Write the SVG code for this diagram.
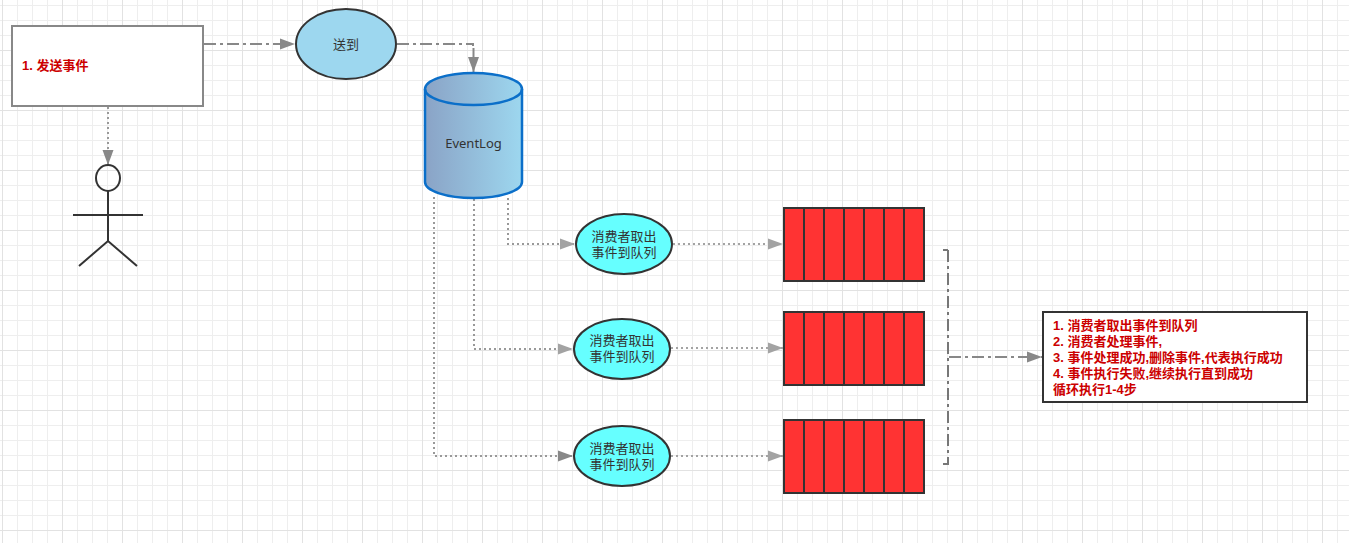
<svg xmlns="http://www.w3.org/2000/svg" width="1349" height="543" viewBox="0 0 1349 543">
<defs>
<pattern id="grid" x="2" y="50" width="60" height="60" patternUnits="userSpaceOnUse">
<path d="M15.5 0V60M30.5 0V60M45.5 0V60M0 15.5H60M0 30.5H60M0 45.5H60" fill="none" stroke="#eeeeee" stroke-width="1"/>
<path d="M0.5 0V60M0 0.5H60" fill="none" stroke="#e2e2e2" stroke-width="1"/>
</pattern>
<linearGradient id="cyl" x1="0" y1="0" x2="1" y2="0"><stop offset="0" stop-color="#8aa3c6"/><stop offset="1" stop-color="#9dd7ef"/></linearGradient>
<marker id="a1" markerUnits="userSpaceOnUse" markerWidth="16" markerHeight="14" refX="15" refY="7" orient="auto"><path d="M0 1.500L15 7L0 12.500Z" fill="#888"/></marker>
<marker id="a2" markerUnits="userSpaceOnUse" markerWidth="16" markerHeight="14" refX="15" refY="7" orient="auto"><path d="M0 1.500L15 7L0 12.500Z" fill="#a3a3a3"/></marker>
</defs>
<style>
text{font-family:"Liberation Sans","Noto Sans CJK SC",sans-serif}
.lbl{font-size:13px;fill:#333;text-anchor:middle}
.red{font-size:13px;font-weight:700;fill:#c00}
.e{stroke:#333;stroke-width:2}
.c{fill:#66ffff}
.dd{fill:none;stroke:#888;stroke-width:2;stroke-dasharray:12 4 3 4}
.dot{fill:none;stroke:#a3a3a3;stroke-width:2;stroke-dasharray:2 3}
.dot2{fill:none;stroke:#999;stroke-width:2;stroke-dasharray:2 3}
.q{fill:#ff3333;stroke:#333;stroke-width:2}
.qd{fill:none;stroke:#333;stroke-width:2}
.act{fill:none;stroke:#333;stroke-width:2}
.solid{fill:none;stroke:#888;stroke-width:2}
</style>
<rect width="1349" height="543" fill="#fff"/>
<rect width="1349" height="543" fill="url(#grid)"/>
<g id="connectors">
<path class="dd" d="M204 44H295" marker-end="url(#a1)"/>
<path class="dd" d="M397 44H473V46"/>
<path class="solid" d="M473.500 48V72" marker-end="url(#a1)"/>
<path class="dot2" d="M108 107V165" marker-end="url(#a1)"/>
<path class="dot2" d="M508 198V244H575" marker-end="url(#a2)"/>
<path class="dot2" d="M474 199V349H573" marker-end="url(#a2)"/>
<path class="dot2" d="M434 197V456H573" marker-end="url(#a1)"/>
<path class="dot" d="M673 244H783" marker-end="url(#a2)"/>
<path class="dot" d="M671 348H783" marker-end="url(#a2)"/>
<path class="dot" d="M671 456H783" marker-end="url(#a2)"/>
<path class="dd" d="M948 250V464" style="stroke:#777"/>
<path fill="none" stroke="#777" stroke-width="2" d="M943 250H948M943 464H949"/>
<path class="dd" d="M949 357H1042" marker-end="url(#a1)"/>
</g>
<g id="send"><rect x="12" y="26" width="191" height="80" fill="#fff" stroke="#888" stroke-width="2"/><text class="red" x="22" y="70">1. 发送事件</text></g>
<g id="actor"><ellipse class="act" cx="108" cy="178" rx="12" ry="13"/><path class="act" d="M108 191V241M73 215H143M79 266L108 241L137 266"/></g>
<g id="deliver"><ellipse class="e" cx="346" cy="44" rx="50" ry="35" fill="#9dd7ef"/><text class="lbl" x="346" y="49">送到</text></g>
<g id="eventlog"><path d="M425 89A48.500 16 0 0 1 522 89V182A48.500 16 0 0 1 425 182Z" fill="url(#cyl)" stroke="#0b6fc9" stroke-width="2.500"/><path d="M425 89A48.500 16 0 0 0 522 89" fill="none" stroke="#0b6fc9" stroke-width="2.500"/><text class="lbl" x="473.500" y="148" style="font-family:'Noto Sans',sans-serif">EventLog</text></g>
<g id="consumer1"><ellipse class="e c" cx="624" cy="244" rx="48" ry="30"/><text class="lbl"><tspan x="624" y="241">消费者取出</tspan><tspan x="624" dy="16">事件到队列</tspan></text></g>
<g id="consumer2"><ellipse class="e c" cx="622" cy="349" rx="48" ry="30"/><text class="lbl"><tspan x="622" y="345">消费者取出</tspan><tspan x="622" dy="16">事件到队列</tspan></text></g>
<g id="consumer3"><ellipse class="e c" cx="622" cy="456" rx="48" ry="30"/><text class="lbl"><tspan x="622" y="453">消费者取出</tspan><tspan x="622" dy="16">事件到队列</tspan></text></g>
<g id="queue1"><rect class="q" x="784" y="208" width="140" height="73"/><path class="qd" d="M804 208v73M824 208v73M844 208v73M864 208v73M884 208v73M904 208v73"/></g>
<g id="queue2"><rect class="q" x="784" y="312" width="140" height="73"/><path class="qd" d="M804 312v73M824 312v73M844 312v73M864 312v73M884 312v73M904 312v73"/></g>
<g id="queue3"><rect class="q" x="784" y="420" width="140" height="73"/><path class="qd" d="M804 420v73M824 420v73M844 420v73M864 420v73M884 420v73M904 420v73"/></g>
<g id="note"><rect x="1043" y="312" width="264" height="90" fill="#fff" stroke="#333" stroke-width="2"/>
<text class="red"><tspan x="1053" y="330">1. 消费者取出事件到队列</tspan><tspan x="1053" dy="16">2. 消费者处理事件,</tspan><tspan x="1053" dy="16">3. 事件处理成功,删除事件,代表执行成功</tspan><tspan x="1053" dy="16">4. 事件执行失败,继续执行直到成功</tspan><tspan x="1053" dy="16">循环执行1-4步</tspan></text></g>
</svg>
